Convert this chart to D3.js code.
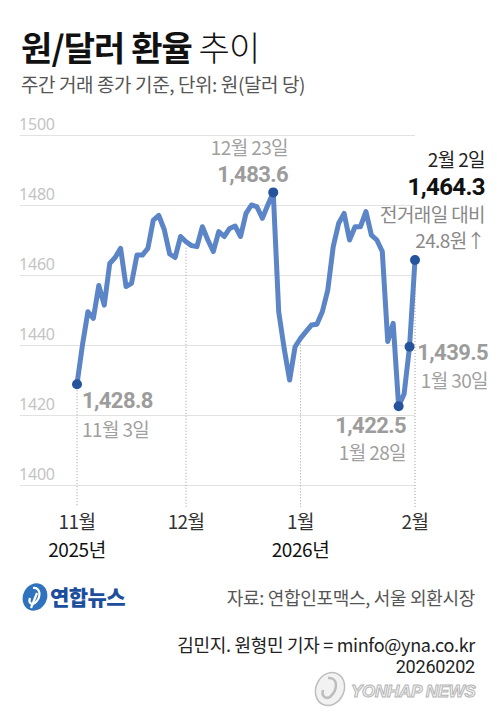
<!DOCTYPE html>
<html><head><meta charset="utf-8">
<script src="https://cdn.jsdelivr.net/npm/d3@7"></script>
<style>
html,body{margin:0;padding:0;background:#fff;}
svg{display:block;font-family:"Noto Sans CJK KR","Noto Sans",sans-serif;}
</style></head>
<body>
<script>
// ---- data ----
const values = [
 1428.8,1440.0,1449.5,1447.6,1457.0,1451.4,1463.3,1465.0,1467.6,1456.7,
 1457.6,1465.7,1465.7,1467.6,1475.7,1477.0,1473.0,1466.0,1465.0,1471.0,
 1469.5,1468.4,1468.1,1473.8,1470.0,1466.7,1472.4,1471.0,1473.3,1474.0,
 1471.0,1477.6,1480.0,1479.5,1476.2,1480.0,1483.6,1449.5,1439.0,1430.0,
 1439.5,1441.9,1443.8,1445.7,1445.9,1449.5,1455.7,1468.1,1474.8,1477.6,
 1470.0,1473.8,1473.8,1478.1,1471.4,1470.0,1466.7,1441.0,1446.2,1422.5,
 1426.0,1439.5,1464.3
];
const yTicks = [1400,1420,1440,1460,1480,1500];
const monthTickIndex = [0,20,41,62];
const monthLabels = ["11월","12월","1월","2월"];
const yearLabels = ["2025년","","2026년",""];
const markedIndex = [0,36,59,61,62];

const W = 499, H = 720;
const svg = d3.select("body").append("svg").attr("width",W).attr("height",H);

const x = d3.scaleLinear().domain([0, values.length-1]).range([77,415]);
const y = d3.scaleLinear().domain([1400,1500]).range([485,135]);

// title
const t = svg.append("text").attr("x",21).attr("y",61).attr("font-size",34).attr("fill","#111").attr("letter-spacing",-0.9);
t.append("tspan").attr("font-weight",700).text("원/달러 환율");
t.append("tspan").attr("font-weight",300).text(" 추이");
svg.append("text").attr("x",21).attr("y",92).attr("font-size",19).attr("fill","#555").attr("letter-spacing",-0.4)
  .text("주간 거래 종가 기준, 단위: 원(달러 당)");

// grid
const yAxis = d3.axisLeft(y).tickValues(yTicks).tickSize(0).tickFormat(d3.format("d"));
const gy = svg.append("g").call(yAxis);
gy.select(".domain").remove();
gy.selectAll(".tick text").attr("x",19).attr("dy",-6).attr("text-anchor","start")
  .attr("font-size",16).attr("fill","#c4c4c4").attr("font-family","Noto Sans, sans-serif").attr("letter-spacing",-0.2);
gy.selectAll(".tick").append("line").attr("x1",20).attr("x2",415).attr("stroke","#e2e2e2").attr("stroke-width",1.2);

// dotted month lines
const gx = svg.append("g");
monthTickIndex.forEach((idx,i)=>{
  gx.append("line").attr("x1",x(idx)).attr("x2",x(idx))
    .attr("y1",y(values[idx])+6).attr("y2",507)
    .attr("stroke","#9a9a9a").attr("stroke-width",1).attr("stroke-dasharray","1,2");
  gx.append("text").attr("x",x(idx)).attr("y",529).attr("text-anchor","middle")
    .attr("font-size",19).attr("fill","#333").attr("letter-spacing",-0.6).text(monthLabels[i]);
  if (yearLabels[i]) gx.append("text").attr("x",x(idx)).attr("y",557).attr("text-anchor","middle")
    .attr("font-size",19).attr("fill","#111").attr("letter-spacing",-0.4).text(yearLabels[i]);
});

// line
const line = d3.line().x((d,i)=>x(i)).y(d=>y(d));
svg.append("path").datum(values).attr("d",line).attr("fill","none")
  .attr("stroke","#5b85c6").attr("stroke-width",5).attr("stroke-linejoin","round").attr("stroke-linecap","round");

svg.selectAll("circle.mk").data(markedIndex).enter().append("circle").attr("class","mk")
  .attr("cx",d=>x(d)).attr("cy",d=>y(values[d])).attr("r",5).attr("fill","#25549c");

// annotations
function lab(xp, yp, txt, opt){
  return svg.append("text").attr("x",xp).attr("y",yp).text(txt)
    .attr("text-anchor",opt.anchor||"start")
    .attr("font-size",opt.size||19).attr("font-weight",opt.bold?700:400)
    .attr("fill",opt.color||"#999")
    .attr("font-family",opt.num?"Roboto, sans-serif":null)
    .attr("letter-spacing",opt.ls!==undefined?opt.ls:-0.6);
}
const fmt = d3.format(",.1f");
lab(288,155,"12월 23일",{anchor:"end",color:"#a0a0a0"});
lab(288,182,fmt(values[36]),{anchor:"end",size:22,bold:true,num:true,color:"#9c9c9c",ls:-0.6});
lab(82,408,fmt(values[0]),{size:22,bold:true,num:true,color:"#9c9c9c",ls:-0.6});
lab(82,437,"11월 3일",{color:"#a0a0a0"});
lab(406,433,fmt(values[59]),{anchor:"end",size:22,bold:true,num:true,color:"#9c9c9c",ls:-0.6});
lab(406,460,"1월 28일",{anchor:"end",color:"#a0a0a0"});
lab(488,360,fmt(values[61]),{anchor:"end",size:22,bold:true,num:true,color:"#9c9c9c",ls:-0.6});
lab(488,388,"1월 30일",{anchor:"end",color:"#a0a0a0"});
lab(485,167,"2월 2일",{anchor:"end",color:"#222"});
lab(485,195,fmt(values[62]),{anchor:"end",size:24,bold:true,num:true,color:"#111",ls:-0.6});
lab(485,222,"전거래일 대비",{anchor:"end",color:"#888"});
lab(485,248,d3.format(".1f")(values[62]-values[61])+"원↑",{anchor:"end",color:"#888"});

// footer
const logo = svg.append("g").attr("transform","translate(35,597)");
logo.append("ellipse").attr("rx",12).attr("ry",14).attr("transform","rotate(25)").attr("fill","#2f73bf");
logo.append("path").attr("d","M-2,-9 C6,-10 6,0 1,5 C-3,9 -7,6 -5,1").attr("fill","none").attr("stroke","#fff").attr("stroke-width",2.2);
logo.append("path").attr("d","M2,-4 L-4,11").attr("stroke","#fff").attr("stroke-width",2.2);
svg.append("text").attr("x",50).attr("y",605).attr("font-size",21).attr("font-weight",900)
  .attr("fill","#1d4e9e").attr("letter-spacing",-0.6).text("연합뉴스");

svg.append("text").attr("x",475).attr("y",605).attr("text-anchor","end").attr("font-size",18)
  .attr("fill","#555").attr("letter-spacing",-0.3).text("자료: 연합인포맥스, 서울 외환시장");
svg.append("text").attr("x",475).attr("y",652).attr("text-anchor","end").attr("font-size",18)
  .attr("fill","#222").attr("letter-spacing",-0.3).text("김민지. 원형민 기자 = minfo@yna.co.kr");
svg.append("text").attr("x",475).attr("y",673).attr("text-anchor","end").attr("font-size",18)
  .attr("font-family","Roboto, sans-serif").attr("fill","#222").attr("letter-spacing",-0.2).text("20260202");

// watermark
const wm = svg.append("g").attr("transform","translate(330,689)");
wm.append("ellipse").attr("rx",14).attr("ry",17).attr("transform","rotate(25)").attr("fill","#f2f2f2").attr("stroke","#bdbdbd").attr("stroke-width",1.5);
wm.append("path").attr("d","M-2,-11 C8,-12 8,0 1,7 C-3,11 -9,8 -7,1").attr("fill","none").attr("stroke","#bdbdbd").attr("stroke-width",2.5);
svg.append("text").attr("x",351).attr("y",697).attr("font-size",17).attr("font-weight",700).attr("font-style","italic")
  .attr("font-family","Liberation Sans, sans-serif").attr("fill","#f4f4f4").attr("stroke","#b5b5b5").attr("stroke-width",1)
  .attr("letter-spacing",-0.3).text("YONHAP NEWS");
</script>
</body></html>
